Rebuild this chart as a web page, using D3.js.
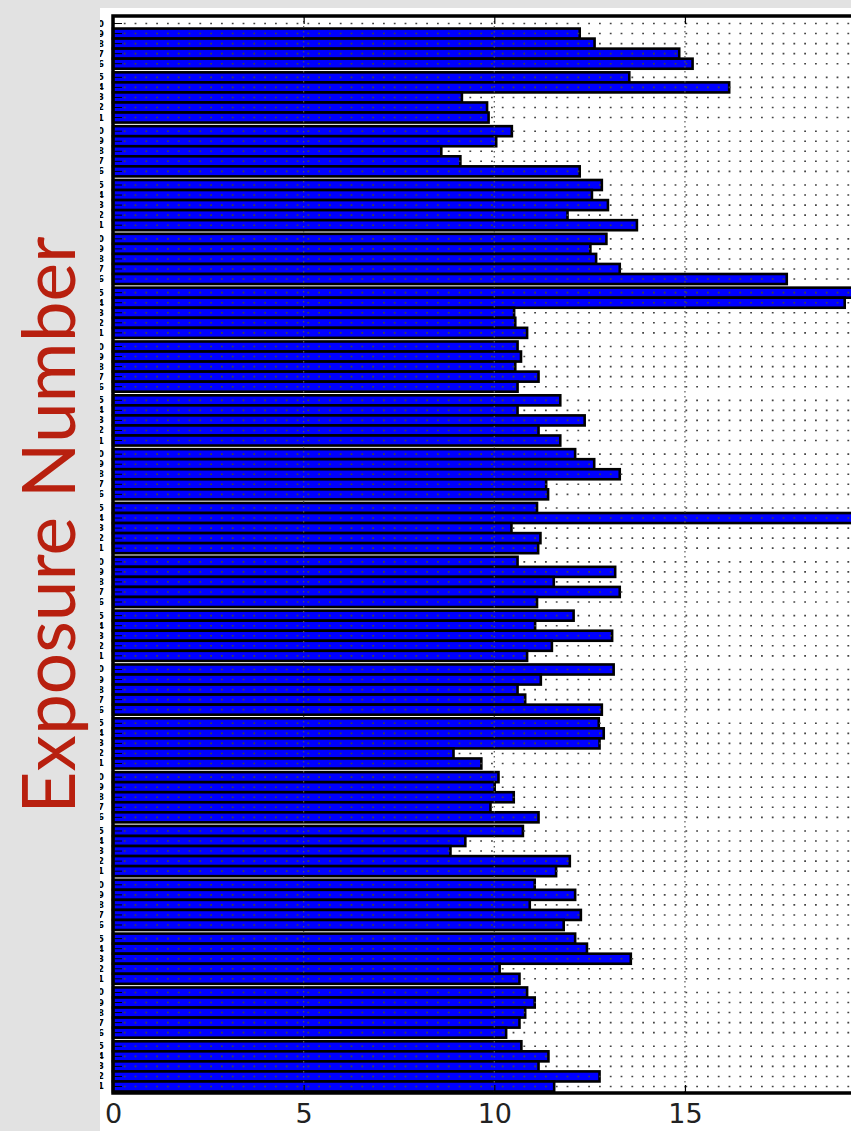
<!DOCTYPE html>
<html lang="en">
<head>
    <meta charset="UTF-8">
    <title>Exposure Number</title>
    <script src="https://d3js.org/d3.v7.min.js"></script>
    <style>
    body{
        margin: 0;
        background: #e2e2e2;
    }
    .axis path{
        display: none;
    }
    .axis line{
        stroke: #000;
        stroke-width: 1.2;
    }
    .axis text{
        font-family: "DejaVu Sans", sans-serif;
        font-size: 27px;
        fill: #222;
    }
    </style>
</head>
<body>
    <script>
    var width = 851;
    var height = 1131;

    // values read top to bottom, groups of five, top slot is empty
    var exposureTime = [
        null, 12.24, 12.63, 14.85, 15.20,
        13.54, 16.16, 9.15, 9.81, 9.85,
        10.46, 10.05, 8.61, 9.11, 12.24,
        12.82, 12.56, 12.98, 11.92, 13.74,
        12.94, 12.52, 12.67, 13.29, 17.67,
        21.0, 19.19, 10.52, 10.55, 10.86,
        10.61, 10.70, 10.55, 11.16, 10.61,
        11.73, 10.61, 12.37, 11.16, 11.73,
        12.12, 12.62, 13.29, 11.36, 11.41,
        11.12, 21.0, 10.45, 11.21, 11.15,
        10.61, 13.17, 11.56, 13.29, 11.12,
        12.08, 11.07, 13.09, 11.51, 10.86,
        13.13, 11.22, 10.61, 10.81, 12.82,
        12.74, 12.87, 12.76, 8.93, 9.66,
        10.11, 10.01, 10.51, 9.90, 11.16,
        10.75, 9.24, 8.85, 11.98, 11.62,
        11.06, 12.12, 10.93, 12.27, 11.82,
        12.12, 12.43, 13.58, 10.14, 10.66,
        10.86, 11.06, 10.81, 10.66, 10.31,
        10.71, 11.42, 11.16, 12.76, 11.57
    ];
    var groupSize = 5;
    var xTicks = [0, 5, 10, 15];
    var yTitle = "Exposure Number";

    var slots = exposureTime.map(function(v, i) {
        return {idx: i, group: Math.floor(i / groupSize), pos: i % groupSize, value: v};
    });
    var groups = d3.range(exposureTime.length / groupSize);

    var svg = d3.select("body")
        .append("svg")
        .attr("width", width)
        .attr("height", height);

    // white sheet of the pasted plot
    svg.append("rect")
        .attr("x", 100).attr("y", 8)
        .attr("width", width - 100).attr("height", height - 8)
        .attr("fill", "#fff");

    // scales
    var xScale = d3.scaleLinear()
        .domain([0, 20])
        .range([113, 113 + 20 * 38.13]);

    var groupScale = d3.scaleBand()
        .domain(groups)
        .range([18.5, 1091.5])
        .paddingInner(0.067)
        .paddingOuter(0);

    var slotScale = d3.scaleBand()
        .domain(d3.range(groupSize))
        .range([0, groupScale.bandwidth()]);

    function yOf(d) { return groupScale(d.group) + slotScale(d.pos); }

    // y tick labels, mostly cut off by the left edge of the sheet
    svg.append("clipPath").attr("id", "sheet")
        .append("rect").attr("x", 100).attr("y", 8).attr("width", 20).attr("height", height);
    svg.append("g")
        .attr("clip-path", "url(#sheet)")
        .selectAll("text")
        .data(slots)
        .enter().append("text")
        .attr("x", 104)
        .attr("y", function(d) { return yOf(d) + slotScale.bandwidth() / 2 + 3; })
        .attr("text-anchor", "end")
        .attr("font-family", "DejaVu Sans, sans-serif")
        .attr("font-size", 8.5)
        .attr("font-weight", "bold")
        .text(function(d) { return 100 - d.idx; });

    // bars
    svg.append("g")
        .selectAll("rect")
        .data(slots.filter(function(d) { return d.value != null; }))
        .enter().append("rect")
        .attr("x", xScale(0))
        .attr("y", yOf)
        .attr("width", function(d) { return xScale(d.value) - xScale(0); })
        .attr("height", slotScale.bandwidth())
        .attr("fill", "#0000ff")
        .attr("stroke", "#000")
        .attr("stroke-width", 2.6);

    // dotted grid, drawn over the bars
    svg.append("g")
        .selectAll("line")
        .data(slots)
        .enter().append("line")
        .attr("x1", xScale(0)).attr("x2", width)
        .attr("y1", function(d) { return yOf(d) + slotScale.bandwidth() / 2; })
        .attr("y2", function(d) { return yOf(d) + slotScale.bandwidth() / 2; })
        .attr("stroke", "#444")
        .attr("stroke-width", 1.6)
        .attr("stroke-dasharray", "1.8,9");

    svg.append("g")
        .selectAll("line")
        .data(xTicks.slice(1))
        .enter().append("line")
        .attr("x1", xScale).attr("x2", xScale)
        .attr("y1", 16).attr("y2", 1093)
        .attr("stroke", "#555")
        .attr("stroke-width", 1.2)
        .attr("stroke-dasharray", "1.5,3.5");

    // inward y ticks
    svg.append("g")
        .selectAll("line")
        .data(slots)
        .enter().append("line")
        .attr("x1", xScale(0)).attr("x2", xScale(0) + 9)
        .attr("y1", function(d) { return yOf(d) + slotScale.bandwidth() / 2; })
        .attr("y2", function(d) { return yOf(d) + slotScale.bandwidth() / 2; })
        .attr("stroke", "#000")
        .attr("stroke-width", 1);

    // x axes, ticks pointing inward
    var xAxis = d3.axisBottom(xScale)
        .tickValues(xTicks)
        .tickSizeInner(-8)
        .tickSizeOuter(0)
        .tickPadding(11);
    svg.append("g")
        .attr("class", "axis")
        .attr("transform", "translate(0,1093)")
        .call(xAxis);

    svg.append("g")
        .attr("class", "axis")
        .attr("transform", "translate(0,16)")
        .call(d3.axisTop(xScale).tickValues(xTicks).tickSizeInner(-8).tickSizeOuter(0).tickFormat(""));

    // frame
    svg.append("rect")
        .attr("x", xScale(0)).attr("y", 16)
        .attr("width", width + 20 - xScale(0)).attr("height", 1093 - 16)
        .attr("fill", "none")
        .attr("stroke", "#000")
        .attr("stroke-width", 3.5);

    // axis title
    svg.append("text")
        .attr("transform", "translate(75,525) rotate(-90)")
        .attr("text-anchor", "middle")
        .attr("font-family", "Lato, sans-serif")
        .attr("font-size", 73)
        .attr("fill", "#b8200f")
        .text(yTitle);
    </script>
</body>
</html>
